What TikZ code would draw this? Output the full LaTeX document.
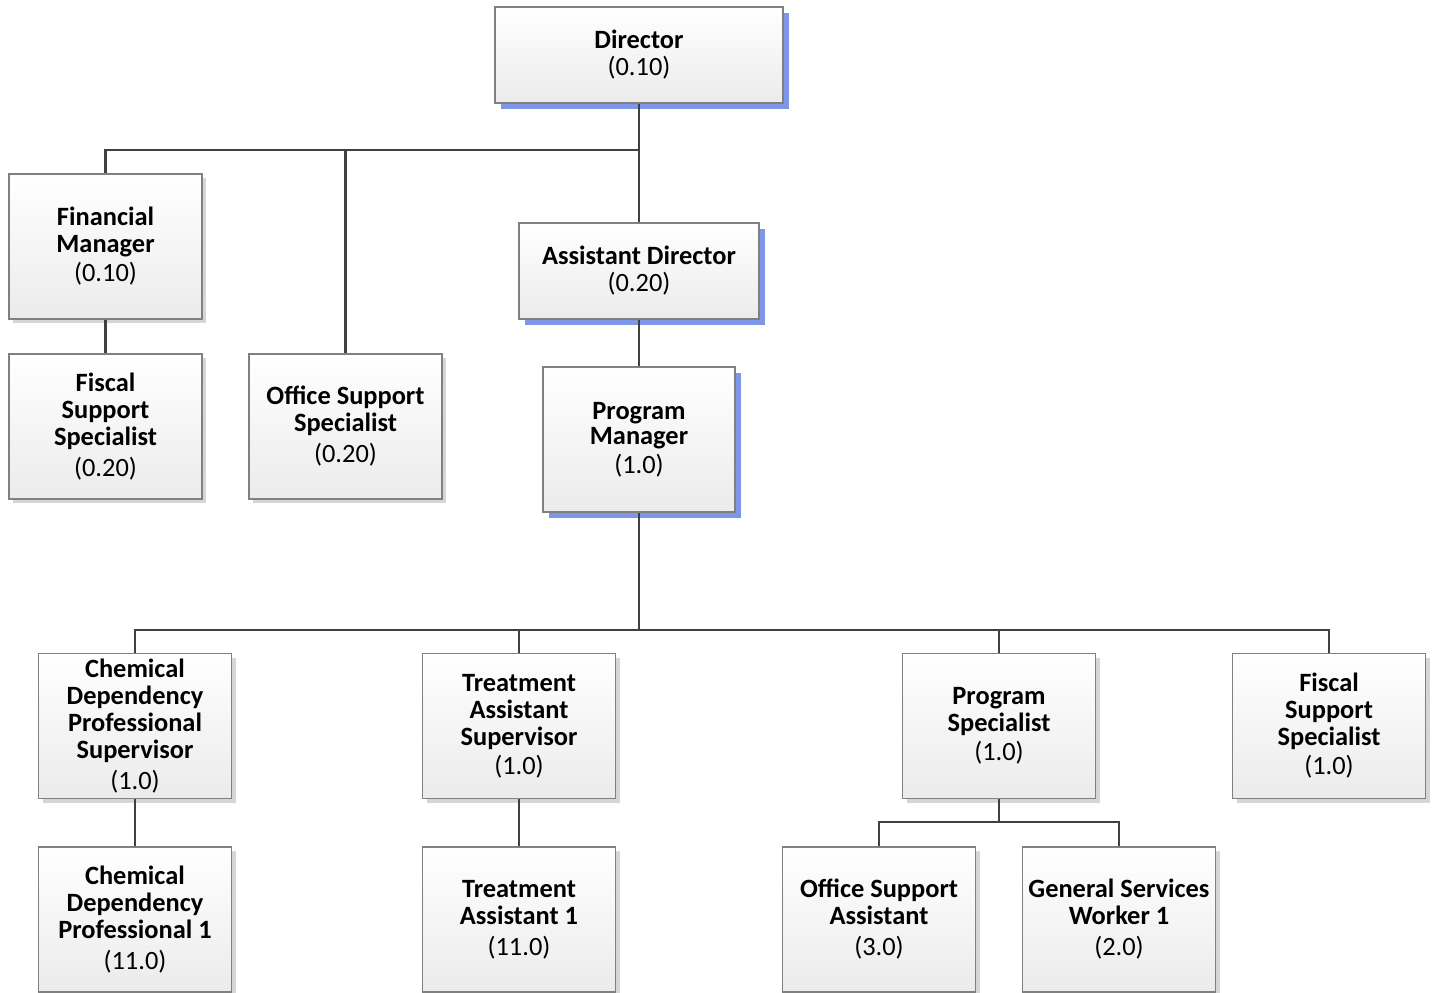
\documentclass[tikz,border=0pt]{standalone}
\usepackage{fontspec}
\setmainfont{Carlito}
\usetikzlibrary{shadows}
\definecolor{orgline}{HTML}{404040}
\definecolor{orgedge}{HTML}{808080}
\definecolor{orgblue}{HTML}{7F96E6}
\definecolor{orggrey}{HTML}{D6D6D6}
\definecolor{orgfill}{HTML}{EBEBEB}

\begin{document}
\begin{tikzpicture}[x=0.5pt, y=-0.5pt,
  font=\fontsize{13.2}{13.5}\selectfont,
  box/.style={draw=orgedge, thick, top color=white, bottom color=orgfill, align=center,
              inner sep=0pt, minimum width=96.5pt, minimum height=72.5pt},
  staff/.style={box, drop shadow={shadow xshift=2pt, shadow yshift=-2pt, fill=orggrey, opacity=1}},
  lead/.style={box, drop shadow={shadow xshift=3pt, shadow yshift=-3pt, fill=orgblue, opacity=1}},
  org/.style={draw=orgline, line width=1.4pt}
]
\useasboundingbox (0,0) rectangle (1433,992);
% ----- top of the chart -----
\node[lead, minimum width=144pt, minimum height=48pt] (dir) at (639,55) {\textbf{Director}\\(0.10)};
\node[staff] (fm)  at (105.5,246.5) {\textbf{Financial}\\\textbf{Manager}\\[1pt](0.10)};
\node[staff] (fs1) at (105.5,426.5) {\textbf{Fiscal}\\\textbf{Support}\\\textbf{Specialist}\\[2pt](0.20)};
\node[staff] (oss) at (345.5,426.5) {\textbf{Office Support}\\\textbf{Specialist}\\[2pt](0.20)};
\node[lead, minimum width=120pt, minimum height=48pt] (ad) at (639,271) {\textbf{Assistant Director}\\(0.20)};
\node[lead, minimum width=96pt] (pm) at (639,439.5) {\textbf{Program}\\[-1pt]\textbf{Manager}\\[1pt](1.0)};
% ----- program staff -----
\node[staff] (cdps) at (135,726)  {\textbf{Chemical}\\\textbf{Dependency}\\\textbf{Professional}\\\textbf{Supervisor}\\[2pt](1.0)};
\node[staff] (tas)  at (519,726)  {\textbf{Treatment}\\\textbf{Assistant}\\\textbf{Supervisor}\\[1pt](1.0)};
\node[staff] (ps)   at (999,726)  {\textbf{Program}\\\textbf{Specialist}\\[1pt](1.0)};
\node[staff] (fs2)  at (1329,726) {\textbf{Fiscal}\\\textbf{Support}\\\textbf{Specialist}\\[1pt](1.0)};
\node[staff] (cdp1) at (135,919.5)  {\textbf{Chemical}\\\textbf{Dependency}\\\textbf{Professional 1}\\[2pt](11.0)};
\node[staff] (ta1)  at (519,919.5)  {\textbf{Treatment}\\\textbf{Assistant 1}\\[2pt](11.0)};
\node[staff] (osa)  at (879,919.5)  {\textbf{Office Support}\\\textbf{Assistant}\\[2pt](3.0)};
\node[staff] (gsw)  at (1119,919.5) {\textbf{General Services}\\\textbf{Worker 1}\\[2pt](2.0)};
% ----- reporting lines -----
\coordinate (b1) at (639,150);
\coordinate (b2) at (639,630);
\coordinate (b3) at (999,822);
\foreach \a/\b in {dir/ad, ad/pm, pm/b2, fm/fs1, cdps/cdp1, tas/ta1, ps/b3}{\draw[org] (\a) -- (\b);}
\foreach \b in {fm, oss}{\draw[org] (b1) -| (\b.north);}
\foreach \b in {cdps, tas, ps, fs2}{\draw[org] (b2) -| (\b.north);}
\foreach \b in {osa, gsw}{\draw[org] (b3) -| (\b.north);}
\end{tikzpicture}
\end{document}
